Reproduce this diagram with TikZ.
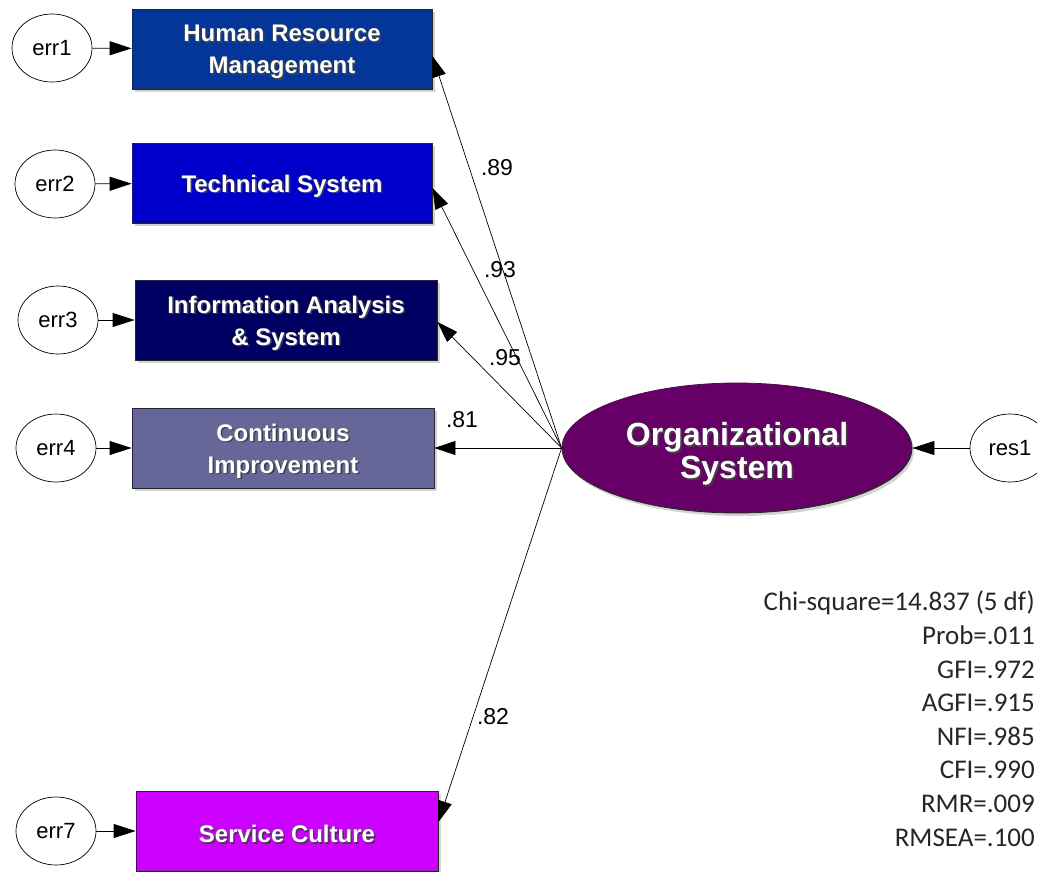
\documentclass[tikz,border=0pt]{standalone}
\usepackage{fontspec}
\setmainfont{Liberation Sans}
\newfontfamily\fitfont{Carlito}
\usetikzlibrary{arrows.meta,shapes.geometric,shadows}

\definecolor{hrmblue}{RGB}{3,54,152}
\definecolor{techblue}{RGB}{0,0,204}
\definecolor{infoblue}{RGB}{0,0,99}
\definecolor{contgray}{RGB}{102,102,153}
\definecolor{servpink}{RGB}{204,0,255}
\definecolor{orgpurple}{RGB}{102,0,102}

\newcommand{\shtext}[2][3pt]{\raisebox{-#1}[\height][\depth]{\rlap{\kern1.6pt\raisebox{-1.6pt}[0pt][0pt]{\color{black!75}#2}}#2}}

\begin{document}
\begin{tikzpicture}[x=1pt,y=-1pt,
  obs/.style={draw=black!85,line width=.8pt,minimum width=300pt,minimum height=80pt,
    inner sep=0pt,text=white,align=center,font=\fontsize{24}{32}\selectfont\bfseries,
    drop shadow={shadow xshift=3pt,shadow yshift=-3pt,opacity=.35}},
  errnode/.style={ellipse,draw,line width=.7pt,fill=white,minimum width=80pt,
    minimum height=68pt,inner sep=0pt,font=\fontsize{22}{26}\selectfont},
  latent/.style={ellipse,draw=black!85,line width=.8pt,fill=orgpurple,minimum width=350pt,
    minimum height=130pt,inner sep=0pt,text=white,align=center,
    font=\fontsize{32}{33}\selectfont\bfseries,
    drop shadow={shadow xshift=2pt,shadow yshift=-3pt,opacity=.35}},
  errarrow/.style={-{Triangle[length=22pt,width=14pt]},line width=.8pt},
  load/.style={-{Triangle[length=21pt,width=14pt]},line width=.7pt},
  coef/.style={font=\fontsize{23}{26}\selectfont,inner sep=0pt}]

\useasboundingbox (0,0) rectangle (1037,871);

% observed variables
\node[obs,fill=hrmblue] (hrm) at (282,49) {\shtext{Human Resource}\\\shtext{Management}};
\node[obs,fill=techblue] (tech) at (282,183) {\shtext{Technical System}};
\node[obs,fill=infoblue,minimum width=302pt] (info) at (286,320) {\shtext{Information Analysis}\\\shtext{\& System}};
\node[obs,fill=contgray,minimum width=302pt] (cont) at (283,448) {\shtext{Continuous}\\\shtext{Improvement}};
\node[obs,fill=servpink,minimum width=302pt] (serv) at (287,831) {\shtext{Service Culture}};

% latent variable
\node[latent] (org) at (737,448) {\shtext[6pt]{Organizational}\\\shtext[6pt]{System}};

% error terms
\node[errnode] (err1) at (52,48) {err1};
\node[errnode] (err2) at (55,184) {err2};
\node[errnode] (err3) at (58,320) {err3};
\node[errnode] (err4) at (56,448) {err4};
\node[errnode] (err7) at (56,831) {err7};
\node[errnode] (res1) at (1010,448) {res1};

\foreach \e/\b in {err1/hrm,err2/tech,err3/info,err4/cont,err7/serv}
  \draw[errarrow] (\e) -- (\b);
\draw[errarrow] (res1) -- (org);

% loadings
\draw[load] (org.west) -- ([yshift=-7pt]hrm.east);
\draw[load] (org.west) -- ([yshift=-5pt]tech.east);
\draw[load] (org.west) -- ([yshift=-2pt]info.east);
\draw[load] (org.west) -- (cont.east);
\draw[load] (org.west) -- ([yshift=9pt]serv.east);

\node[coef] (c1) at (497,168) {.89};
\node[coef] (c2) at (500,270) {.93};
\node[coef] (c3) at (505,358) {.95};
\node[coef] (c4) at (462,420) {.81};
\node[coef] (c7) at (493,717) {.82};

% fit statistics
\node[anchor=north east,inner sep=0pt,align=right,text=black!85,
  font=\fitfont\fontsize{27}{33.6}\selectfont] (fit) at (1035,591)
  {Chi-square=14.837 (5 df)\\Prob=.011\\GFI=.972\\AGFI=.915\\NFI=.985\\CFI=.990\\RMR=.009\\RMSEA=.100};

\end{tikzpicture}
\end{document}
